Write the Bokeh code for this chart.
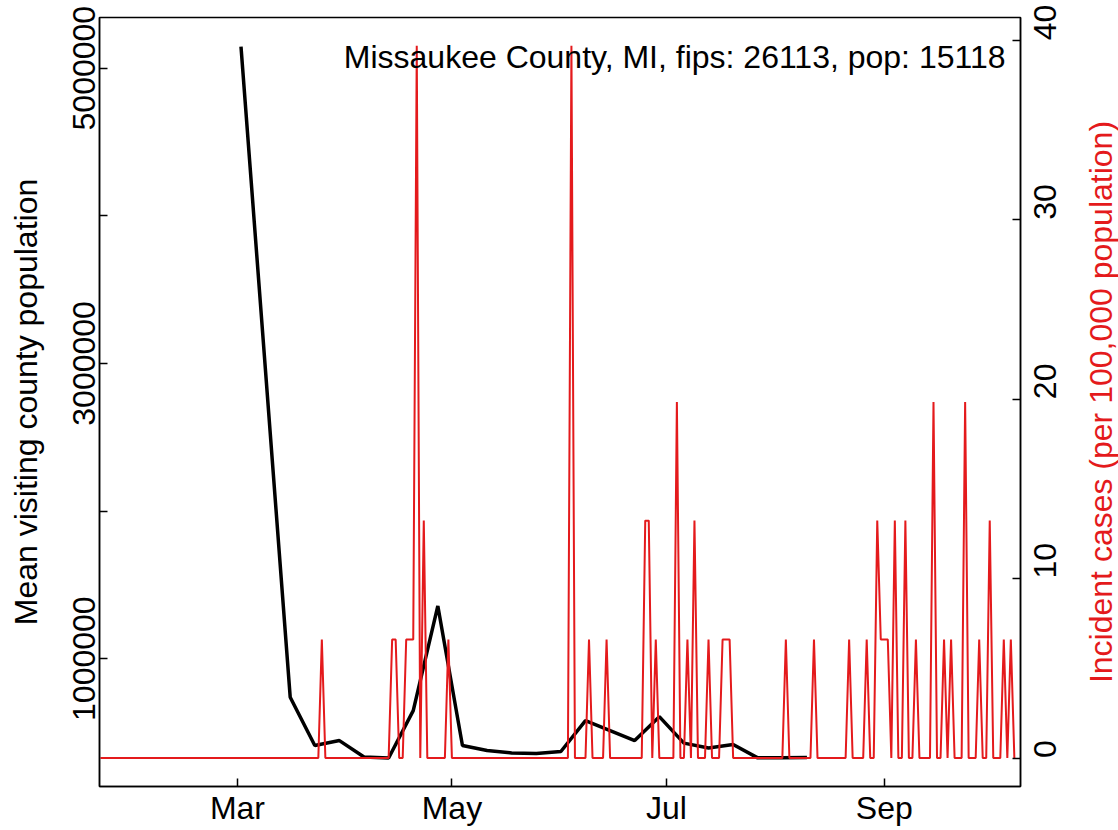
import math
import pandas as pd
from bokeh.plotting import figure
from bokeh.layouts import row
from bokeh.models import Range1d, LinearAxis, FixedTicker, Label
from bokeh.core.properties import value
from bokeh.embed import file_html
from bokeh.resources import INLINE

# ---------------- data ----------------
# weekly mean visiting county population (black line)
visit_dates = ["2020-03-02", "2020-03-16", "2020-03-23", "2020-03-30", "2020-04-06",
               "2020-04-13", "2020-04-20", "2020-04-27", "2020-05-04", "2020-05-11",
               "2020-05-18", "2020-05-25", "2020-06-01", "2020-06-08", "2020-06-15",
               "2020-06-22", "2020-06-29", "2020-07-06", "2020-07-13", "2020-07-20",
               "2020-07-27", "2020-08-03", "2020-08-10"]
visit_pop = [5146000, 739000, 412000, 445000, 334000,
             327000, 648000, 1357000, 412000, 378000,
             361000, 357000, 371000, 580000, 513000,
             445000, 607000, 428000, 395000, 418000,
             328000, 328000, 330000]

# daily incident cases per 100,000 (red line); days not listed are 0
case_start = "2020-01-22"
case_end = "2020-10-08"
case_dates = ["2020-03-25", "2020-04-14", "2020-04-15", "2020-04-18", "2020-04-19",
              "2020-04-20", "2020-04-21", "2020-04-23", "2020-04-30", "2020-06-04",
              "2020-06-09", "2020-06-14", "2020-06-25", "2020-06-26", "2020-06-28",
              "2020-07-04", "2020-07-07", "2020-07-09", "2020-07-13", "2020-07-17",
              "2020-07-18", "2020-07-19", "2020-08-04", "2020-08-12", "2020-08-22",
              "2020-08-27", "2020-08-30", "2020-08-31", "2020-09-01", "2020-09-02",
              "2020-09-04", "2020-09-07", "2020-09-10", "2020-09-15", "2020-09-18",
              "2020-09-20", "2020-09-24", "2020-09-28", "2020-10-01", "2020-10-05",
              "2020-10-07"]
case_rates = [6.61, 6.61, 6.61, 6.61, 6.61,
              6.61, 39.69, 13.23, 6.61, 39.69,
              6.61, 6.61, 13.23, 13.23, 6.61,
              19.84, 6.61, 13.23, 6.61, 6.61,
              6.61, 6.61, 6.61, 6.61, 6.61,
              6.61, 13.23, 6.61, 6.61, 6.61,
              13.23, 13.23, 6.61, 19.84, 6.61,
              6.61, 19.84, 6.61, 13.23, 6.61,
              6.61]

x_tick_dates = ["2020-03-01", "2020-05-01", "2020-07-01", "2020-09-01"]
x_tick_labels = ["Mar", "May", "Jul", "Sep"]
left_ticks = [1000000, 2000000, 3000000, 4000000, 5000000]
left_tick_labels = ["1000000", "", "3000000", "", "5000000"]
right_ticks = [0, 10, 20, 30, 40]

title_text = "Missaukee County, MI, fips: 26113, pop: 15118"
left_label = "Mean visiting county population"
right_label = "Incident cases (per 100,000 population)"

# ---------------- build ----------------
RED = "#E41A1C"
FONT = "Liberation Sans"
FS = "32px"

def ms(d):
    return pd.Timestamp(d).value / 1e6

days = pd.date_range(case_start, case_end, freq="D")
rate_map = dict(zip(pd.to_datetime(case_dates), case_rates))
daily_rates = [rate_map.get(d, 0.0) for d in days]

SPAN = 262.0
x0 = pd.Timestamp("2020-01-21 18:00")
x1 = x0 + pd.Timedelta(days=SPAN)
Y0, Y1 = 134000, 5343000
MAIN_W = 1070
SIDE_W = 1118 - MAIN_W
H = 830

p = figure(width=MAIN_W, height=H, x_axis_type="datetime",
           x_range=Range1d(x0, x1), y_range=Range1d(Y0, Y1),
           output_backend="svg", toolbar_location=None,
           min_border_left=99, min_border_top=17,
           min_border_right=MAIN_W - 1020, min_border_bottom=44)
p.grid.visible = False
p.outline_line_color = "black"
p.outline_line_width = 1.5
p.outline_line_alpha = 1.0
p.background_fill_color = "white"
p.border_fill_color = "white"

p.extra_y_ranges = {"cases": Range1d(-1.5876, 41.27)}

p.line(pd.to_datetime(visit_dates), visit_pop, line_color="black", line_width=3.5)
p.line(days, daily_rates, y_range_name="cases", line_color=RED, line_width=2)

# x axis
xa = p.xaxis[0]
xa.ticker = FixedTicker(ticks=[ms(d) for d in x_tick_dates])
xa.major_label_overrides = {ms(d): lab for d, lab in zip(x_tick_dates, x_tick_labels)}
xa.minor_tick_line_color = None
xa.major_tick_in = 8
xa.major_tick_out = 0
xa.major_label_standoff = 3
xa.major_label_text_font = FONT
xa.major_label_text_font_size = FS
xa.major_label_text_color = "black"
xa.axis_line_width = 1.5
xa.major_tick_line_width = 1.5

# left axis
ya = p.yaxis[0]
ya.ticker = FixedTicker(ticks=left_ticks)
ya.major_label_overrides = {t: lab for t, lab in zip(left_ticks, left_tick_labels)}
ya.minor_tick_line_color = None
ya.major_tick_in = 8
ya.major_tick_out = 0
ya.major_label_orientation = "vertical"
ya.major_label_standoff = 4
ya.major_label_text_font = FONT
ya.major_label_text_font_size = FS
ya.major_label_text_color = "black"
ya.axis_label = left_label
ya.axis_label_text_font = FONT
ya.axis_label_text_font_size = FS
ya.axis_label_text_font_style = "normal"
ya.axis_label_text_color = "black"
ya.axis_label_standoff = 27
ya.axis_line_width = 1.5
ya.major_tick_line_width = 1.5

# right axis
ra = LinearAxis(y_range_name="cases")
ra.ticker = FixedTicker(ticks=right_ticks)
ra.minor_tick_line_color = None
ra.major_tick_in = 8
ra.major_tick_out = 0
ra.major_label_orientation = math.pi / 2
ra.major_label_standoff = 25
ra.major_label_text_font = FONT
ra.major_label_text_font_size = FS
ra.major_label_text_color = "black"
ra.axis_line_width = 1.5
ra.major_tick_line_width = 1.5
p.add_layout(ra, "right")

def xpix(px):
    return x0 + pd.Timedelta(days=SPAN * (px - 99) / 921)

def ypix(py):
    return Y1 - (py - 17) / 769 * (Y1 - Y0)

# title text inside plot
p.add_layout(Label(x=xpix(1005), y=ypix(56), text=title_text,
                   text_align="right", text_baseline="alphabetic",
                   text_font=FONT, text_font_size=FS, text_color="black"))

# narrow side panel carrying the red right-axis title (reads bottom to top)
s = figure(width=SIDE_W, height=H, x_range=Range1d(0, SIDE_W), y_range=Range1d(0, H),
           output_backend="svg", toolbar_location=None,
           min_border_left=0, min_border_right=0, min_border_top=0, min_border_bottom=0)
s.axis.visible = False
s.grid.visible = False
s.outline_line_color = None
s.background_fill_color = "white"
s.border_fill_color = "white"
s.text(x=[1100 - MAIN_W], y=[H - 415], text=[right_label], angle=math.pi / 2,
       text_align="center", text_baseline="middle",
       text_font=value(FONT), text_font_size=FS, text_color=RED)

layout = row(p, s, spacing=0)
open("out.html", "w").write(file_html(layout, INLINE))
